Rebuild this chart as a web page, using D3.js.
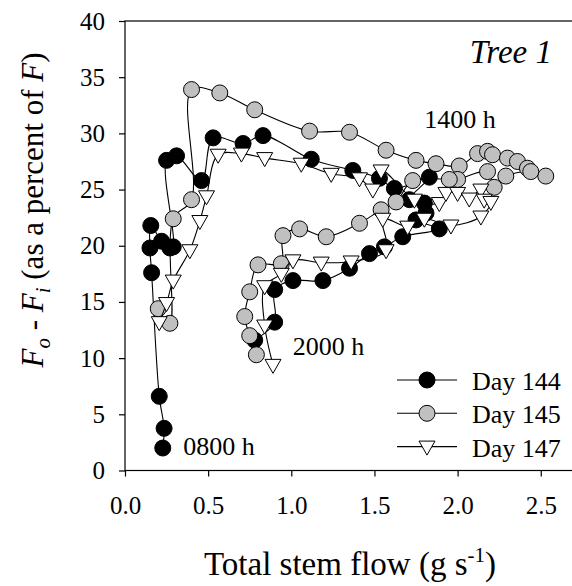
<!DOCTYPE html>
<html>
<head>
<meta charset="utf-8">
<script src="https://cdn.jsdelivr.net/npm/d3@7"></script>
<style>
  body { margin: 0; background: #fff; }
</style>
</head>
<body>
<div id="chart"></div>
<script>
// Day 144 (black circles)
const flow144 = [0.227,0.235,0.206,0.16,0.15,0.155,0.22,0.27,0.29,0.25,0.31,0.46,0.53,0.71,0.83,1.12,1.37,1.53,1.62,1.83,1.71,1.80,1.81,1.75,1.89,1.67,1.56,1.47,1.35,1.19,1.01,0.90,0.90,0.78]
const pct144  = [2.0,3.75,6.6,17.6,19.8,21.8,20.4,19.8,19.9,27.6,28.0,25.8,29.6,29.1,29.8,27.7,26.7,26.0,25.1,26.1,24.1,23.8,22.9,22.3,21.5,20.8,19.9,19.3,18.0,16.9,16.9,16.1,13.2,11.6]
// Day 145 (grey circles)
const flow145 = [0.20,0.27,0.29,0.40,0.40,0.57,0.78,1.11,1.35,1.57,1.75,1.87,2.01,2.12,2.18,2.21,2.30,2.36,2.42,2.53,2.44,2.29,2.22,2.18,2.00,1.95,1.73,1.63,1.54,1.41,1.21,1.05,0.95,0.94,0.80,0.75,0.72,0.75,0.79]
const pct145  = [14.4,13.1,22.4,24.1,33.9,33.6,32.1,30.2,30.1,28.5,27.6,27.3,27.1,28.2,28.4,28.1,27.8,27.5,26.9,26.2,26.6,26.2,25.2,26.6,25.9,25.9,25.8,23.9,23.2,22.0,20.8,21.5,20.9,18.4,18.3,15.9,13.7,12.0,10.3]
// Day 147 (open triangles)
const flow147 = [0.206,0.25,0.29,0.39,0.45,0.49,0.56,0.70,0.84,1.06,1.24,1.41,1.49,1.54,1.74,1.89,1.93,2.00,2.07,2.14,2.16,2.20,2.14,1.96,1.80,1.70,1.55,1.57,1.36,1.18,1.01,0.94,0.84,0.84,0.89]
const pct147  = [13.2,14.9,16.9,19.6,22.2,24.4,28.1,28.2,27.8,27.3,26.4,26.0,25.0,26.7,24.1,23.8,24.7,24.7,24.2,25.0,24.1,23.9,22.6,21.8,22.4,21.7,22.4,19.6,18.6,18.5,18.7,17.5,16.4,12.9,9.4]

const dayLabels = ["Day 144", "Day 145", "Day 147"]
const xTicks = [0, 0.5, 1.0, 1.5, 2.0, 2.5]
const yTicks = [0, 5, 10, 15, 20, 25, 30, 35, 40]
const timeLabels = [["0800 h", 0.35, 1.38], ["1400 h", 1.80, 30.44], ["2000 h", 1.008, 10.28]]

const W = 572, H = 586
const margin = {top: 21, left: 125}
const plotH = 449.5
const pxPerUnit = 166.3
const serif = "'Liberation Serif', 'DejaVu Serif', 'Times New Roman', Times, serif"

const svg = d3.select("#chart").append("svg")
  .attr("width", W).attr("height", H)
  .style("font-family", serif)

const x = d3.scaleLinear().domain([0, 2.7]).range([margin.left, margin.left + 2.7 * pxPerUnit])
const y = d3.scaleLinear().domain([0, 40]).range([margin.top + plotH, margin.top])

// frame
svg.append("rect")
  .attr("x", x(0)).attr("y", y(40))
  .attr("width", x(2.7) - x(0)).attr("height", y(0) - y(40))
  .attr("fill", "none").attr("stroke", "#000").attr("stroke-width", 1.2)

const xAxis = svg.append("g")
  .attr("transform", `translate(0,${y(0)})`)
  .call(d3.axisBottom(x).tickValues(xTicks).tickSize(6).tickPadding(20).tickFormat(d3.format(".1f")))
xAxis.attr("font-family", null).attr("font-size", null)
xAxis.select(".domain").remove()
xAxis.selectAll("line").attr("stroke-width", 1.2)
xAxis.selectAll("text").style("font-size", "25px").style("font-family", serif)

const yAxis = svg.append("g")
  .attr("transform", `translate(${x(0)},0)`)
  .call(d3.axisLeft(y).tickValues(yTicks).tickSize(6).tickPadding(14))
yAxis.attr("font-family", null).attr("font-size", null)
yAxis.select(".domain").remove()
yAxis.selectAll("line").attr("stroke-width", 1.2)
yAxis.selectAll("text").style("font-size", "25px").style("font-family", serif)

// axis titles
const xt = svg.append("text")
  .attr("x", 350).attr("y", 575)
  .attr("text-anchor", "middle")
  .style("font-size", "33px")
xt.append("tspan").text("Total stem flow (g s")
xt.append("tspan").attr("dy", -13).style("font-size", "21px").text("-1")
xt.append("tspan").attr("dy", 13).text(")")

const yt = svg.append("text")
  .attr("transform", "translate(43,210) rotate(-90)")
  .attr("text-anchor", "middle")
  .style("font-size", "31px")
yt.append("tspan").style("font-style", "italic").text("F")
yt.append("tspan").style("font-style", "italic").style("font-size", "21px").attr("dy", 7).text("o")
yt.append("tspan").attr("dy", -7).text(" - ")
yt.append("tspan").style("font-style", "italic").text("F")
yt.append("tspan").style("font-style", "italic").style("font-size", "21px").attr("dy", 7).text("i")
yt.append("tspan").attr("dy", -7).text(" (as a percent of ")
yt.append("tspan").style("font-style", "italic").text("F")
yt.append("tspan").text(")")

// series
const series = [
  {xs: flow144, ys: pct144, shape: "circle", fill: "#000"},
  {xs: flow145, ys: pct145, shape: "circle", fill: "#c0c0c0"},
  {xs: flow147, ys: pct147, shape: "triangle", fill: "#fff"}
]

const line = d3.line().x(d => x(d[0])).y(d => y(d[1])).curve(d3.curveCatmullRom.alpha(0.5))
const tri = "M-8,-5.5L8,-5.5L0,8.5Z"

series.forEach(s => {
  const pts = s.xs.map((v, i) => [v, s.ys[i]])
  svg.append("path").datum(pts)
    .attr("d", line).attr("fill", "none").attr("stroke", "#000").attr("stroke-width", 1.1)
  if (s.shape === "circle") {
    svg.selectAll(null).data(pts).join("circle")
      .attr("cx", d => x(d[0])).attr("cy", d => y(d[1])).attr("r", 8)
      .attr("fill", s.fill).attr("stroke", "#000").attr("stroke-width", 1)
  } else {
    svg.selectAll(null).data(pts).join("path")
      .attr("d", tri)
      .attr("transform", d => `translate(${x(d[0])},${y(d[1])})`)
      .attr("fill", s.fill).attr("stroke", "#000").attr("stroke-width", 1)
  }
})

// time annotations
svg.selectAll(null).data(timeLabels).join("text")
  .attr("x", d => x(d[1])).attr("y", d => y(d[2]))
  .style("font-size", "26px")
  .text(d => d[0])

svg.append("text")
  .attr("x", 552).attr("y", 63)
  .attr("text-anchor", "end")
  .style("font-size", "33px").style("font-style", "italic")
  .text("Tree 1")

// legend
const legend = svg.append("g")
legend.selectAll(null).data(series).join("g")
  .attr("transform", (d, i) => `translate(427,${380 + i * 33.3})`)
  .each(function(s, i) {
    const g = d3.select(this)
    g.append("line").attr("x1", -30).attr("x2", 30).attr("stroke", "#000").attr("stroke-width", 1.1)
    if (s.shape === "circle") {
      g.append("circle").attr("r", 8).attr("fill", s.fill).attr("stroke", "#000")
    } else {
      g.append("path").attr("d", tri).attr("fill", s.fill).attr("stroke", "#000")
    }
    g.append("text").attr("x", 45).attr("y", 10).style("font-size", "26px").text(dayLabels[i])
  })
</script>
</body>
</html>
